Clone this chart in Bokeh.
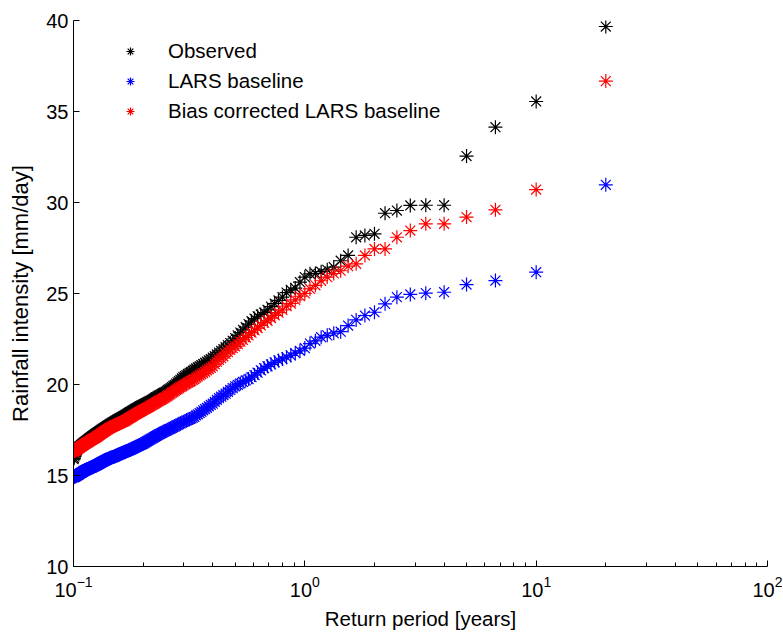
from bokeh.plotting import figure
from bokeh.models import Range1d, FixedTicker, Legend, LegendItem, ColumnDataSource
from bokeh.embed import file_html
from bokeh.resources import INLINE

# Record length used for the plotting positions: T = RECORD / rank
RECORD = 20
ranks = list(range(1, 201))

observed = [
    39.67, 35.55, 34.14, 32.55, 29.85, 29.85, 29.84, 29.56, 29.41, 28.28,
    28.19, 28.09, 27.09, 26.80, 26.45, 26.30, 26.20, 26.10, 26.08, 25.90,
    25.62, 25.30, 25.20, 25.05, 24.80, 24.62, 24.45, 24.28, 24.10, 23.95,
    23.85, 23.75, 23.62, 23.48, 23.32, 23.15, 23.00, 22.85, 22.70, 22.55,
    22.40, 22.28, 22.16, 22.05, 21.95, 21.85, 21.75, 21.65, 21.56, 21.48,
    21.40, 21.33, 21.26, 21.19, 21.12, 21.06, 21.00, 20.94, 20.88, 20.82,
    20.76, 20.70, 20.64, 20.58, 20.52, 20.46, 20.40, 20.33, 20.26, 20.19,
    20.12, 20.05, 19.98, 19.92, 19.86, 19.80, 19.75, 19.70, 19.65, 19.60,
    19.56, 19.52, 19.48, 19.45, 19.42, 19.38, 19.34, 19.30, 19.26, 19.22,
    19.18, 19.14, 19.10, 19.07, 19.04, 19.01, 18.98, 18.95, 18.92, 18.90,
    18.87, 18.84, 18.81, 18.78, 18.75, 18.72, 18.69, 18.66, 18.63, 18.60,
    18.57, 18.54, 18.51, 18.48, 18.45, 18.42, 18.39, 18.36, 18.33, 18.30,
    18.28, 18.25, 18.22, 18.20, 18.17, 18.15, 18.12, 18.10, 18.07, 18.05,
    18.02, 18.00, 17.97, 17.95, 17.92, 17.90, 17.87, 17.85, 17.82, 17.80,
    17.77, 17.74, 17.72, 17.69, 17.67, 17.64, 17.62, 17.59, 17.57, 17.54,
    17.52, 17.49, 17.47, 17.44, 17.42, 17.39, 17.37, 17.34, 17.32, 17.30,
    17.27, 17.25, 17.22, 17.20, 17.17, 17.15, 17.12, 17.10, 17.07, 17.05,
    17.02, 17.00, 16.97, 16.95, 16.92, 16.90, 16.87, 16.85, 16.82, 16.80,
    16.78, 16.75, 16.73, 16.70, 16.68, 16.65, 16.62, 16.60, 16.57, 16.54,
    16.50, 16.46, 16.42, 16.38, 16.32, 16.25, 16.15, 16.05, 15.95, 15.90,
]

lars_baseline = [
    30.97, 26.17, 25.71, 25.49, 25.07, 25.02, 24.95, 24.80, 24.43, 23.97,
    23.79, 23.55, 23.24, 22.90, 22.82, 22.70, 22.60, 22.40, 22.25, 22.00,
    21.85, 21.72, 21.60, 21.50, 21.40, 21.32, 21.22, 21.10, 21.00, 20.90,
    20.78, 20.65, 20.52, 20.40, 20.30, 20.22, 20.14, 20.06, 19.98, 19.90,
    19.80, 19.70, 19.60, 19.50, 19.42, 19.33, 19.25, 19.15, 19.05, 18.95,
    18.88, 18.80, 18.72, 18.65, 18.58, 18.50, 18.43, 18.36, 18.30, 18.22,
    18.18, 18.14, 18.10, 18.06, 18.02, 17.98, 17.94, 17.90, 17.86, 17.82,
    17.78, 17.74, 17.70, 17.66, 17.62, 17.58, 17.55, 17.52, 17.48, 17.45,
    17.41, 17.38, 17.34, 17.31, 17.27, 17.24, 17.20, 17.17, 17.13, 17.10,
    17.06, 17.03, 16.99, 16.96, 16.92, 16.89, 16.85, 16.82, 16.78, 16.75,
    16.73, 16.70, 16.68, 16.65, 16.63, 16.60, 16.58, 16.55, 16.53, 16.50,
    16.48, 16.45, 16.43, 16.41, 16.39, 16.37, 16.35, 16.33, 16.31, 16.30,
    16.28, 16.26, 16.24, 16.22, 16.20, 16.18, 16.16, 16.14, 16.12, 16.10,
    16.08, 16.06, 16.04, 16.02, 16.01, 16.00, 15.99, 15.98, 15.97, 15.95,
    15.93, 15.91, 15.89, 15.87, 15.85, 15.83, 15.81, 15.79, 15.77, 15.75,
    15.73, 15.71, 15.69, 15.67, 15.65, 15.63, 15.61, 15.59, 15.57, 15.55,
    15.54, 15.52, 15.51, 15.49, 15.48, 15.46, 15.45, 15.43, 15.42, 15.40,
    15.39, 15.37, 15.36, 15.34, 15.33, 15.31, 15.30, 15.28, 15.27, 15.25,
    15.23, 15.21, 15.19, 15.17, 15.15, 15.14, 15.12, 15.10, 15.08, 15.06,
    15.04, 15.03, 15.01, 14.99, 14.97, 14.96, 14.94, 14.93, 14.91, 14.90,
]

bias_corrected = [
    36.67, 30.71, 29.60, 29.20, 28.83, 28.83, 28.46, 28.09, 27.45, 27.45,
    27.09, 26.63, 26.50, 26.25, 26.10, 25.90, 25.70, 25.45, 25.25, 25.00,
    24.85, 24.65, 24.45, 24.30, 24.10, 23.95, 23.80, 23.65, 23.50, 23.40,
    23.25, 23.10, 22.98, 22.85, 22.70, 22.58, 22.45, 22.35, 22.22, 22.10,
    22.00, 21.90, 21.78, 21.68, 21.55, 21.45, 21.35, 21.25, 21.12, 21.00,
    20.92, 20.85, 20.78, 20.70, 20.63, 20.56, 20.50, 20.44, 20.38, 20.30,
    20.25, 20.20, 20.15, 20.10, 20.05, 20.00, 19.95, 19.90, 19.85, 19.80,
    19.75, 19.70, 19.65, 19.60, 19.55, 19.50, 19.45, 19.40, 19.35, 19.30,
    19.26, 19.22, 19.18, 19.15, 19.12, 19.08, 19.04, 19.00, 18.96, 18.93,
    18.90, 18.86, 18.82, 18.79, 18.76, 18.72, 18.69, 18.66, 18.63, 18.60,
    18.57, 18.54, 18.51, 18.48, 18.45, 18.42, 18.39, 18.36, 18.33, 18.30,
    18.27, 18.24, 18.21, 18.18, 18.15, 18.12, 18.09, 18.06, 18.03, 18.00,
    17.98, 17.96, 17.94, 17.92, 17.90, 17.88, 17.86, 17.84, 17.82, 17.80,
    17.78, 17.76, 17.74, 17.72, 17.70, 17.68, 17.66, 17.64, 17.62, 17.60,
    17.57, 17.55, 17.52, 17.50, 17.47, 17.45, 17.42, 17.40, 17.37, 17.35,
    17.32, 17.30, 17.27, 17.25, 17.22, 17.20, 17.17, 17.15, 17.12, 17.10,
    17.08, 17.06, 17.04, 17.02, 17.00, 16.98, 16.96, 16.94, 16.92, 16.90,
    16.88, 16.86, 16.84, 16.82, 16.80, 16.78, 16.76, 16.74, 16.72, 16.70,
    16.68, 16.66, 16.64, 16.62, 16.60, 16.58, 16.56, 16.54, 16.52, 16.50,
    16.48, 16.46, 16.44, 16.42, 16.40, 16.38, 16.36, 16.34, 16.32, 16.30,
]

series_names = ["Observed", "LARS baseline", "Bias corrected LARS baseline"]
series_colors = ["#000000", "#0000ff", "#ff0000"]
y_ticks = [10, 15, 20, 25, 30, 35, 40]
x_major_ticks = [0.1, 1, 10, 100]
x_minor_ticks = [0.2, 0.3, 0.4, 0.5, 0.6, 0.7, 0.8, 0.9,
                 2, 3, 4, 5, 6, 7, 8, 9,
                 20, 30, 40, 50, 60, 70, 80, 90]

return_period = [RECORD / m for m in ranks]

FONT = "Liberation Sans"

p = figure(width=783, height=632, x_axis_type="log",
           x_range=Range1d(0.1, 100), y_range=Range1d(10, 40),
           output_backend="svg", toolbar_location=None,
           min_border_left=73, min_border_right=16,
           min_border_top=20, min_border_bottom=66)
p.outline_line_color = None
p.xgrid.visible = False
p.ygrid.visible = False
p.background_fill_color = "white"
p.border_fill_color = "white"

items = []
for name, col, vals in zip(series_names, series_colors,
                           [observed, lars_baseline, bias_corrected]):
    src = ColumnDataSource(dict(x=return_period, y=vals))
    r = p.scatter("x", "y", source=src, marker="asterisk", size=14,
                  line_color=col, line_width=1.2)
    items.append(LegendItem(label=name, renderers=[r]))

legend = Legend(items=items, location=(47, 443))
legend.border_line_color = None
legend.background_fill_alpha = 0
legend.padding = 0
legend.margin = 0
legend.spacing = 6
legend.glyph_width = 20
legend.glyph_height = 22
legend.label_height = 22
legend.label_standoff = 28
legend.label_text_font = FONT
legend.label_text_font_size = "20.5px"
legend.label_text_color = "black"
p.add_layout(legend, "center")

for ax in (p.xaxis[0], p.yaxis[0]):
    ax.axis_line_color = "black"
    ax.major_tick_line_color = "black"
    ax.minor_tick_line_color = "black"
    ax.major_tick_in = 6
    ax.major_tick_out = 0
    ax.minor_tick_in = 4
    ax.minor_tick_out = 0
    ax.major_label_text_font = FONT
    ax.major_label_text_font_size = "20px"
    ax.major_label_text_color = "black"
    ax.axis_label_text_font = FONT
    ax.axis_label_text_font_style = "normal"
    ax.axis_label_text_color = "black"

p.xaxis.ticker = FixedTicker(ticks=x_major_ticks, minor_ticks=x_minor_ticks)
p.yaxis.ticker = FixedTicker(ticks=y_ticks)
p.yaxis.minor_tick_line_color = None
p.yaxis.major_label_standoff = 5
p.xaxis.major_label_standoff = 9
p.xaxis.axis_label = "Return period [years]"
p.yaxis.axis_label = "Rainfall intensity [mm/day]"
p.xaxis.axis_label_text_font_size = "20.5px"
p.yaxis.axis_label_text_font_size = "22px"
p.xaxis.axis_label_standoff = 7
p.yaxis.axis_label_standoff = 10

open("out.html", "w").write(file_html(p, INLINE))
